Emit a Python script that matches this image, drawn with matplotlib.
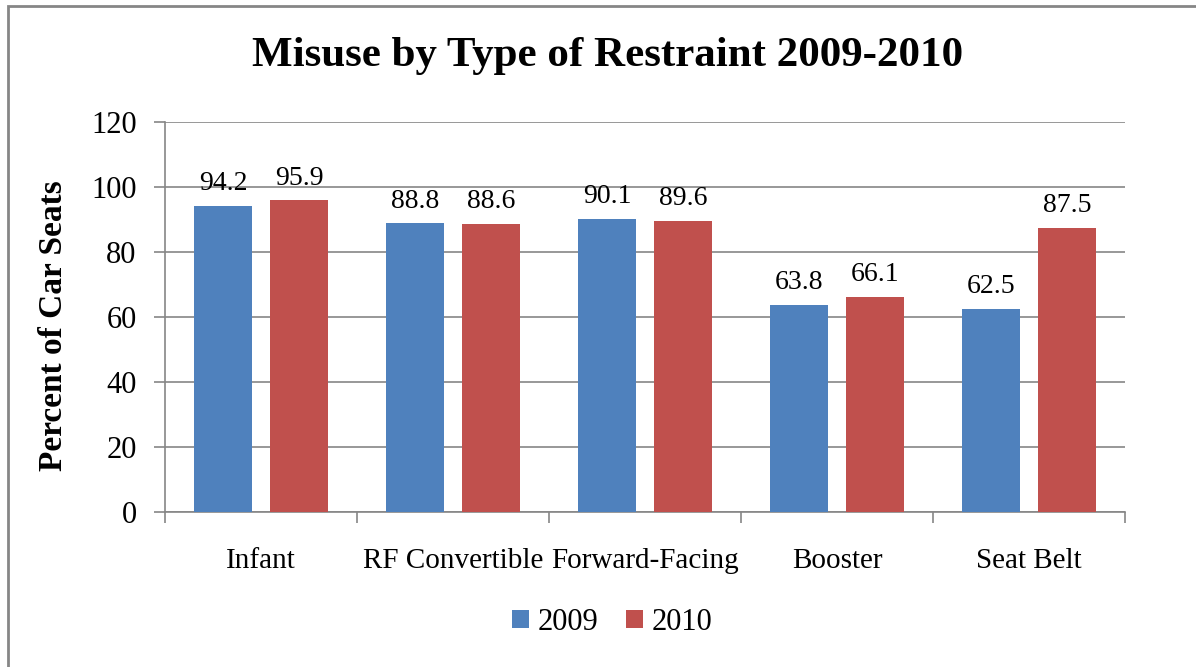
import numpy as np
import matplotlib.pyplot as plt
from matplotlib.patches import Rectangle

plt.rcParams['font.family'] = ['Liberation Serif', 'DejaVu Serif']

categories = ['Infant', 'RF Convertible', 'Forward-Facing', 'Booster', 'Seat Belt']
vals_2009 = [94.2, 88.8, 90.1, 63.8, 62.5]
vals_2010 = [95.9, 88.6, 89.6, 66.1, 87.5]
series_names = ['2009', '2010']

blue = '#4F81BD'
red = '#C0504D'
grid_gray = '#868686'

fig = plt.figure(figsize=(11.96, 6.67), dpi=100)
ax = fig.add_axes([0.138, 0.2324, 0.8027, 0.5847])

x = np.arange(len(categories))
w = 0.30
off = 0.198
b1 = ax.bar(x - off, vals_2009, w, color=blue, label=series_names[0], zorder=3)
b2 = ax.bar(x + off, vals_2010, w, color=red, label=series_names[1], zorder=3)

for bars, vals in ((b1, vals_2009), (b2, vals_2010)):
    for rect, v in zip(bars, vals):
        ax.text(rect.get_x() + rect.get_width() / 2, v + 3, f'{v:.1f}',
                ha='center', va='bottom', fontsize=20)

ax.set_ylim(0, 120)
ax.set_xlim(-0.5, len(categories) - 0.5)
ax.set_yticks(np.arange(0, 121, 20))
ax.yaxis.grid(True, color=grid_gray, linewidth=1.2, zorder=0)
ax.set_axisbelow(True)

# category labels at centres, tick marks at boundaries
ax.set_xticks(x)
ax.set_xticklabels(categories, fontsize=21)
ax.tick_params(axis='x', which='major', length=0, pad=26)
ax.set_xticks(np.arange(-0.5, len(categories)), minor=True)
ax.tick_params(axis='x', which='minor', length=8, width=1.2, color=grid_gray)
ax.tick_params(axis='y', length=8, width=1.2, color=grid_gray, labelsize=22, pad=12.5)

for side in ('top', 'right'):
    ax.spines[side].set_visible(False)
for side in ('left', 'bottom'):
    ax.spines[side].set_color(grid_gray)
    ax.spines[side].set_linewidth(1.2)

ax.set_ylabel('Percent of Car Seats', fontsize=24, fontweight='bold', va='center')
ax.yaxis.set_label_coords(-0.116, 0.477)
fig.text(0.508, 0.916, 'Misuse by Type of Restraint 2009-2010',
         ha='center', va='center', fontsize=31, fontweight='bold')

ax.legend(loc='center', bbox_to_anchor=(0.512, 0.067), bbox_transform=fig.transFigure,
          ncol=2, frameon=False, fontsize=22, handlelength=0.55, handleheight=0.55,
          handletextpad=0.3, columnspacing=0.9)

# outer chart frame
fig.patches.append(Rectangle((8 / 1196, -0.1), 1.2, 1 - 6 / 667 + 0.1,
                             transform=fig.transFigure, fill=False,
                             edgecolor=grid_gray, linewidth=2))

fig.savefig('out.png', dpi=100)
